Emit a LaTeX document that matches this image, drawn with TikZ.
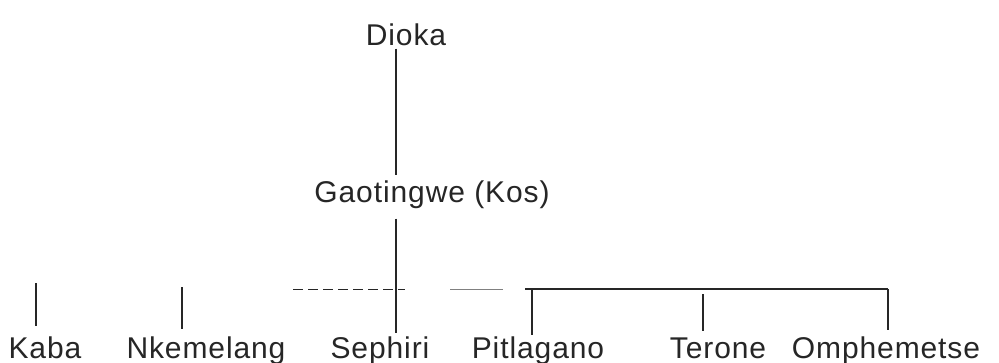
\documentclass[tikz,border=0pt]{standalone}
\usepackage{fontspec}
\setmainfont{Liberation Sans}[LetterSpace=3]
\begin{document}
\begin{tikzpicture}[x=0.5pt,y=-0.5pt,
    member/.style={anchor=base,inner sep=0pt,text=black!85,font=\fontsize{15}{17}\selectfont},
    kin/.style={draw=black!85,line width=0.6pt}]
\useasboundingbox (0,0) rectangle (999,363);
% names
\node[member] (dioka) at (406,46) {Dioka};
\node[member] (gao) at (432,203) {Gaotingwe (Kos)};
\node[member] (kaba) at (45,358) {Kaba};
\node[member] (nkem) at (206,358) {Nkemelang};
\node[member] (seph) at (380,358) {Sephiri};
\node[member] (pitl) at (538,358) {Pitlagano};
\node[member] (tero) at (718,358) {Terone};
\node[member] (omph) at (886,358) {Omphemetse};
% descent line
\coordinate (spine) at (396,0);
\draw[kin,shorten <=1pt,shorten >=3pt] (spine |- dioka.south) -- (spine |- gao.north);
\draw[kin,shorten <=4.5pt,shorten >=1.5pt] (spine |- gao.south) -- (spine |- seph.north);
% sibling bar
\coordinate (barL) at (293,289);
\coordinate (barM) at (405,289);
\coordinate (barN) at (450,289);
\coordinate (barO) at (503,289);
\coordinate (barP) at (525,289);
\coordinate (barR) at (888,289);
\draw[kin,line width=0.4pt,dash pattern=on 5pt off 2.5pt] (barL) -- (barM);
\draw[kin,draw=black!50,line width=0.4pt] (barN) -- (barO);
\draw[kin] (barP) -- (barR);
% children
\coordinate (kabaTop) at (36,283);
\coordinate (nkemTop) at (182,287);
\coordinate (pitlTop) at (532,289);
\coordinate (teroTop) at (703,294);
\draw[kin,shorten >=5pt] (kabaTop) -- (kabaTop |- kaba.north);
\draw[kin,shorten >=3.5pt] (nkemTop) -- (nkemTop |- nkem.north);
\draw[kin,shorten >=0.5pt] (pitlTop) -- (pitlTop |- pitl.north);
\draw[kin,shorten >=3pt] (teroTop) -- (teroTop |- tero.north);
\draw[kin,shorten >=3pt] (barR) -- (barR |- omph.north);
\end{tikzpicture}
\end{document}
